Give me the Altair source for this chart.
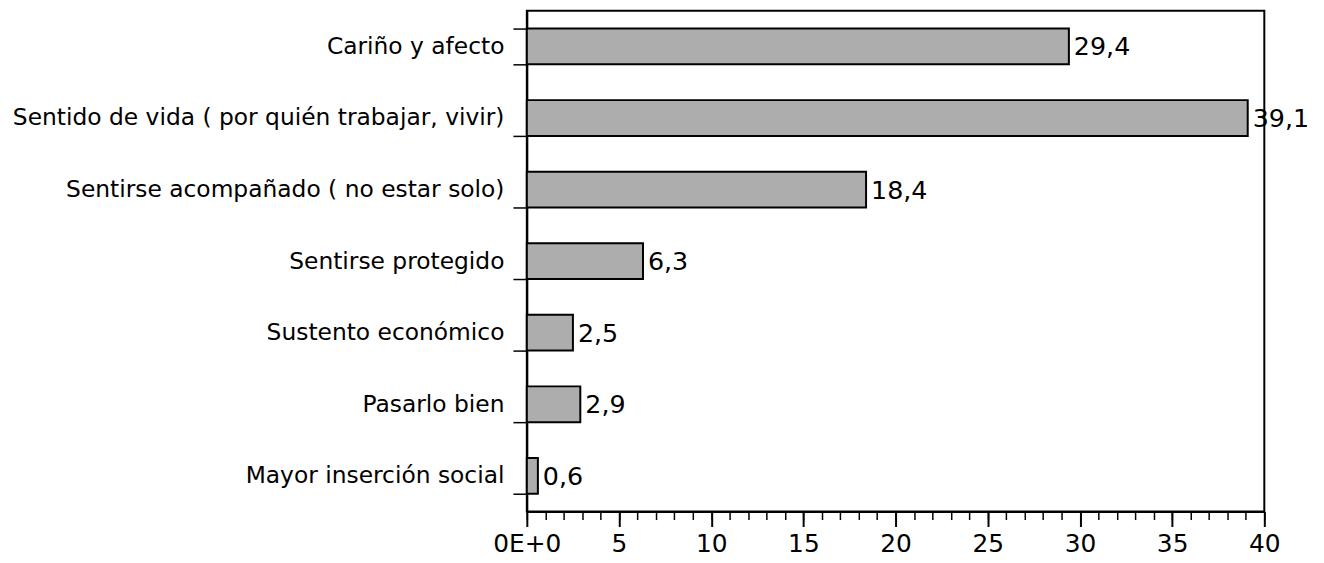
import altair as alt
import pandas as pd

categories = [
    "Cariño y afecto",
    "Sentido de vida ( por quién trabajar, vivir)",
    "Sentirse acompañado ( no estar solo)",
    "Sentirse protegido",
    "Sustento económico",
    "Pasarlo bien",
    "Mayor inserción social",
]
values = [29.4, 39.1, 18.4, 6.3, 2.5, 2.9, 0.6]
value_labels = ["29,4", "39,1", "18,4", "6,3", "2,5", "2,9", "0,6"]

df = pd.DataFrame({"cat": categories, "val": values, "lab": value_labels})

FONT = "DejaVu Sans"

y_enc = alt.Y("cat:N", sort=categories, title=None,
              scale=alt.Scale(paddingInner=0.5, paddingOuter=0.25),
              axis=alt.Axis(tickBand="extent", tickSize=14, tickColor="black",
                            tickWidth=1.5, domainColor="black", domainWidth=2,
                            labelFont=FONT, labelFontSize=23.5, labelColor="black",
                            labelPadding=9, labelLimit=600))

x_scale = alt.Scale(domain=[0, 40], nice=False)

bars = alt.Chart(df).mark_bar(fill="#adadad", stroke="black", strokeWidth=2).encode(
    x=alt.X("val:Q", scale=x_scale, title=None,
            axis=alt.Axis(values=list(range(0, 41, 5)), tickSize=15, tickColor="black",
                          tickWidth=2, domainColor="black", domainWidth=2,
                          labelFont=FONT, labelFontSize=25, labelColor="black",
                          labelPadding=5, grid=False, labelFlush=False, orient="bottom",
                          labelExpr="datum.value == 0 ? '0E+0' : datum.label")),
    y=y_enc,
)

minor = alt.Chart(df).mark_bar(opacity=0).encode(
    x=alt.X("val:Q", scale=x_scale, title=None,
            axis=alt.Axis(values=list(range(0, 41, 1)), tickSize=8, tickColor="black",
                          tickWidth=1.5, labels=False, domain=False, grid=False,
                          orient="bottom")),
    y=alt.Y("cat:N", sort=categories),
)

text = alt.Chart(df).mark_text(align="left", baseline="middle", dx=5, dy=1,
                               font=FONT, fontSize=25.5, color="black").encode(
    x=alt.X("val:Q", scale=x_scale, axis=None),
    y=alt.Y("cat:N", sort=categories),
    text="lab:N",
)

chart = alt.layer(minor, bars, text).resolve_axis(x="independent").properties(
    width=742, height=504,
    padding={"left": 522, "top": 1, "right": 52, "bottom": 46},
    autosize=alt.AutoSizeParams(type="none"),
    background="white",
).configure_view(stroke="black", strokeWidth=2)

chart.save("out.html", embed_options={"renderer": "svg", "actions": False})
